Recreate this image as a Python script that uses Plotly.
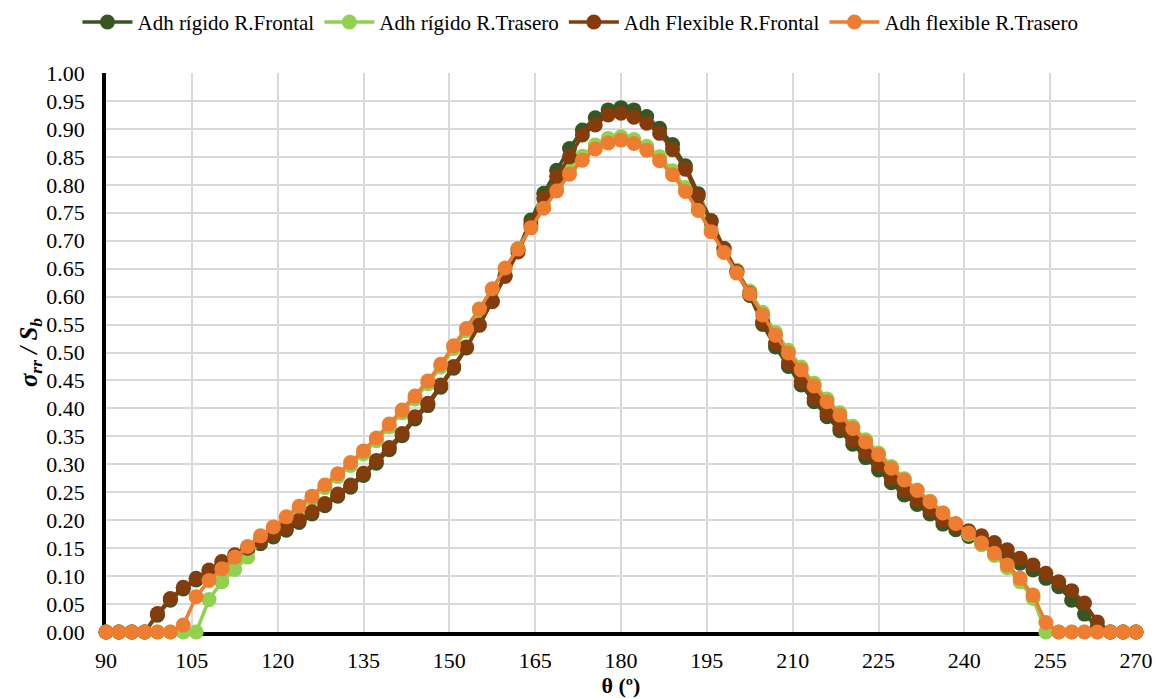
import plotly.graph_objects as go

# Angular positions (degrees)
theta = [
    90.00, 92.25, 94.50, 96.75, 99.00, 101.25, 103.50, 105.75, 108.00, 110.25,
    112.50, 114.75, 117.00, 119.25, 121.50, 123.75, 126.00, 128.25, 130.50, 132.75,
    135.00, 137.25, 139.50, 141.75, 144.00, 146.25, 148.50, 150.75, 153.00, 155.25,
    157.50, 159.75, 162.00, 164.25, 166.50, 168.75, 171.00, 173.25, 175.50, 177.75,
    180.00, 182.25, 184.50, 186.75, 189.00, 191.25, 193.50, 195.75, 198.00, 200.25,
    202.50, 204.75, 207.00, 209.25, 211.50, 213.75, 216.00, 218.25, 220.50, 222.75,
    225.00, 227.25, 229.50, 231.75, 234.00, 236.25, 238.50, 240.75, 243.00, 245.25,
    247.50, 249.75, 252.00, 254.25, 256.50, 258.75, 261.00, 263.25, 265.50, 267.75,
    270.00,
]

# Normalised radial stress sigma_rr / S_b for each case
rigido_frontal = [
    0, 0, 0, 0, 0.030, 0.057, 0.077, 0.093, 0.108, 0.122,
    0.134, 0.146, 0.158, 0.170, 0.182, 0.196, 0.211, 0.226, 0.243, 0.259,
    0.280, 0.302, 0.326, 0.351, 0.381, 0.405, 0.438, 0.472, 0.508, 0.549,
    0.592, 0.638, 0.684, 0.737, 0.785, 0.826, 0.865, 0.898, 0.920, 0.934,
    0.938, 0.934, 0.922, 0.901, 0.872, 0.834, 0.784, 0.736, 0.686, 0.643,
    0.602, 0.550, 0.510, 0.475, 0.442, 0.412, 0.385, 0.360, 0.336, 0.312,
    0.290, 0.267, 0.245, 0.228, 0.211, 0.193, 0.183, 0.171, 0.165, 0.152,
    0.138, 0.123, 0.111, 0.096, 0.081, 0.057, 0.032, 0.008, 0, 0,
    0,
]

rigido_trasero = [
    0, 0, 0, 0, 0, 0, 0, 0, 0.058, 0.090,
    0.112, 0.134, 0.163, 0.182, 0.201, 0.220, 0.238, 0.258, 0.278, 0.298,
    0.319, 0.342, 0.367, 0.392, 0.417, 0.444, 0.474, 0.507, 0.539, 0.575,
    0.612, 0.650, 0.686, 0.725, 0.762, 0.794, 0.825, 0.851, 0.871, 0.883,
    0.886, 0.881, 0.869, 0.850, 0.825, 0.795, 0.761, 0.722, 0.684, 0.647,
    0.610, 0.572, 0.536, 0.504, 0.474, 0.445, 0.417, 0.392, 0.368, 0.344,
    0.320, 0.296, 0.274, 0.254, 0.234, 0.213, 0.193, 0.175, 0.156, 0.137,
    0.115, 0.090, 0.060, 0, 0, 0, 0, 0, 0, 0,
    0,
]

flexible_frontal = [
    0, 0, 0, 0, 0.033, 0.060, 0.080, 0.096, 0.111, 0.126,
    0.138, 0.150, 0.162, 0.174, 0.186, 0.200, 0.215, 0.230, 0.247, 0.263,
    0.284, 0.307, 0.330, 0.355, 0.385, 0.409, 0.442, 0.475, 0.510, 0.549,
    0.591, 0.636, 0.680, 0.730, 0.776, 0.815, 0.850, 0.889, 0.907, 0.925,
    0.928, 0.921, 0.910, 0.892, 0.863, 0.828, 0.780, 0.734, 0.686, 0.645,
    0.606, 0.555, 0.516, 0.481, 0.448, 0.418, 0.391, 0.366, 0.343, 0.320,
    0.299, 0.275, 0.254, 0.236, 0.218, 0.200, 0.190, 0.181, 0.172, 0.160,
    0.147, 0.132, 0.120, 0.105, 0.090, 0.074, 0.052, 0.018, 0, 0,
    0,
]

flexible_trasero = [
    0, 0, 0, 0, 0, 0, 0.0125, 0.063, 0.092, 0.113,
    0.134, 0.153, 0.172, 0.188, 0.206, 0.225, 0.243, 0.263, 0.283, 0.303,
    0.324, 0.347, 0.372, 0.397, 0.422, 0.449, 0.479, 0.512, 0.543, 0.578,
    0.614, 0.651, 0.685, 0.723, 0.758, 0.789, 0.819, 0.844, 0.864, 0.875,
    0.880, 0.874, 0.862, 0.843, 0.818, 0.788, 0.754, 0.716, 0.679, 0.642,
    0.605, 0.567, 0.531, 0.499, 0.469, 0.440, 0.412, 0.388, 0.364, 0.340,
    0.317, 0.293, 0.272, 0.253, 0.233, 0.213, 0.194, 0.177, 0.159, 0.141,
    0.120, 0.096, 0.066, 0.017, 0, 0, 0, 0, 0, 0,
    0,
]

series = [
    ("Adh rígido R.Frontal", rigido_frontal, "#375623"),
    ("Adh rígido R.Trasero", rigido_trasero, "#92d050"),
    ("Adh Flexible R.Frontal", flexible_frontal, "#843c0c"),
    ("Adh flexible R.Trasero", flexible_trasero, "#ed7d31"),
]

FONT = "Liberation Serif"

fig = go.Figure()
for name, values, color in series:
    fig.add_trace(go.Scatter(
        x=theta, y=values, name=name, mode="lines+markers",
        line=dict(color=color, width=3.5),
        marker=dict(color=color, size=15, line=dict(width=0)),
        cliponaxis=False,
    ))

fig.update_layout(
    template="none",
    width=1154, height=699,
    margin=dict(l=106, r=18, t=73, b=67, autoexpand=False),
    paper_bgcolor="white", plot_bgcolor="white",
    font=dict(family=FONT, size=22, color="black"),
    showlegend=True,
    legend=dict(
        orientation="h", xref="container", yref="container",
        x=0.503, xanchor="center", y=0.968, yanchor="middle",
        font=dict(family=FONT, size=21, color="black"),
        itemwidth=50, tracegroupgap=0,
        bgcolor="rgba(0,0,0,0)",
    ),
    xaxis=dict(
        range=[90, 270], tick0=90, dtick=15, tickmode="linear",
        showgrid=True, gridcolor="#d9d9d9", gridwidth=1.5,
        showline=True, linecolor="black", linewidth=3.5,
        zeroline=False, ticks="", ticklabelstandoff=6,
        tickfont=dict(family=FONT, size=22, color="black"),
        title=dict(text="<b>θ (º)</b>", font=dict(family=FONT, size=22), standoff=0),
        layer="below traces", automargin=False,
    ),
    yaxis=dict(
        range=[0, 1.0], tick0=0, dtick=0.05, tickmode="linear", tickformat=".2f",
        showgrid=True, gridcolor="#d9d9d9", gridwidth=1.5,
        showline=True, linecolor="black", linewidth=3.5,
        zeroline=False, ticks="", ticklabelstandoff=13,
        tickfont=dict(family=FONT, size=22, color="black"),
        title=dict(text="<b><i>σ<sub>rr</sub> / S<sub>b</sub></i></b>",
                   font=dict(family=FONT, size=25), standoff=0),
        layer="below traces", automargin=False,
    ),
)

fig.write_html("out.html")
